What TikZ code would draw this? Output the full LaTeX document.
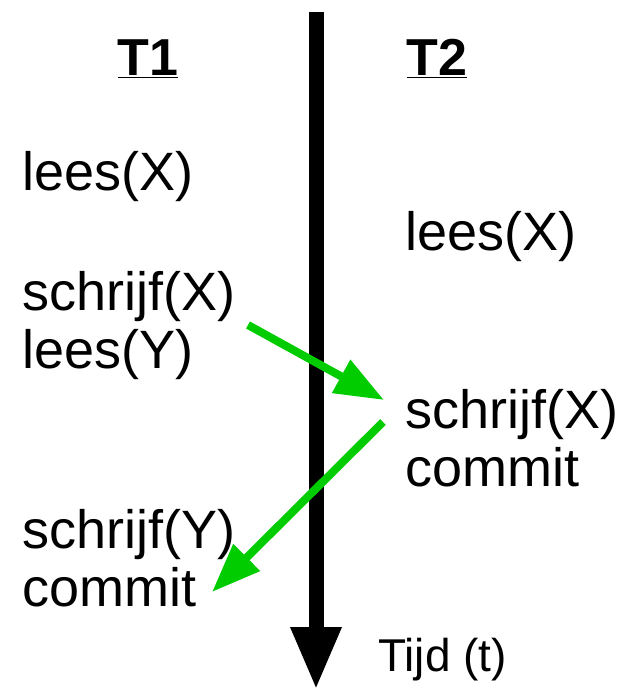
\documentclass[tikz,border=0pt]{standalone}
\usepackage{fontspec}
\setmainfont{Liberation Sans}
\usetikzlibrary{arrows.meta,positioning}
\definecolor{depgreen}{HTML}{00CC00}
\tikzset{
  hdr/.style   ={anchor=base,inner sep=0pt,font=\fontsize{52}{58}\selectfont\bfseries},
  op/.style    ={anchor=base west,inner sep=0pt,align=left,font=\fontsize{54}{58}\selectfont},
  axlbl/.style ={anchor=base west,inner sep=0pt,font=\fontsize{46}{52}\selectfont},
  timeax/.style={line width=15pt,-{Triangle[length=63pt,width=47pt]}},
  dep/.style   ={draw=depgreen,line width=8pt,-{Triangle[length=49pt,width=36pt]}},
}
\begin{document}
\begin{tikzpicture}[x=1pt,y=-1pt]
  \useasboundingbox (0,0) rectangle (617,690);

  % time axis
  \coordinate (ttop) at (316,12);
  \coordinate (tbot) at (316,690);
  \draw[timeax] (ttop) -- (tbot);
  \node[axlbl] (tijd) at (378,671) {Tijd (t)};

  % transactions
  \node[hdr] (t1) at (148,76) {\underline{T1}};
  \node[hdr] (t2) at (437,76) {\underline{T2}};

  % multi-line ops sit on the baseline of their last line
  \node[op] (t1rx)  at (22,190) {lees(X)};
  \node[op] (t1wx)  at (22,368) {schrijf(X)\\lees(Y)};
  \node[op] (t1wy)  at (22,606) {schrijf(Y)\\commit};
  \node[op] (t2rx)  at (405,250) {lees(X)};
  \node[op] (t2wx)  at (405,486) {schrijf(X)\\commit};

  % conflicts
  \coordinate (c1a) at (248,325);
  \coordinate (c1b) at (384,400);
  \coordinate (c2a) at (383,422);
  \coordinate (c2b) at (212,592);
  \draw[dep] (c1a) -- (c1b);
  \draw[dep] (c2a) -- (c2b);
\end{tikzpicture}
\end{document}
